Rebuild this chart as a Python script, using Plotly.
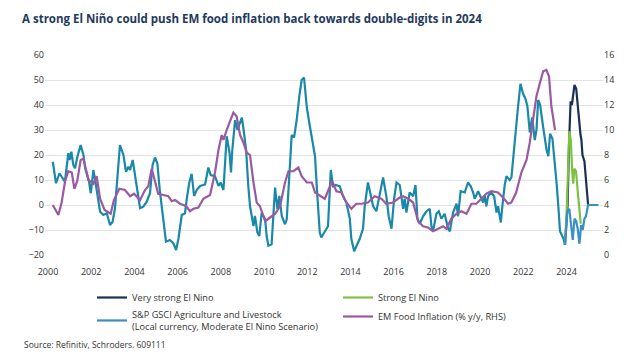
import plotly.graph_objects as go

# ---- Data (decimal years) ----
# S&P GSCI Agriculture & Livestock, local currency, % y/y (LHS) - history
gsci_years = [2000.22, 2000.37, 2000.53, 2000.70, 2000.78, 2000.94, 2001.00, 2001.08, 2001.17, 2001.25,
              2001.36, 2001.51, 2001.64, 2001.72, 2001.80, 2001.90, 2001.98, 2002.10, 2002.18, 2002.33,
              2002.41, 2002.56, 2002.72, 2002.87, 2002.99, 2003.10, 2003.33, 2003.49, 2003.61, 2003.72,
              2003.80, 2003.92, 2004.03, 2004.14, 2004.26, 2004.41, 2004.57, 2004.72, 2004.84, 2004.95,
              2005.06, 2005.18, 2005.31, 2005.46, 2005.64, 2005.80, 2005.93, 2006.04, 2006.19, 2006.34,
              2006.42, 2006.54, 2006.65, 2006.76, 2006.88, 2007.04, 2007.27, 2007.42, 2007.53, 2007.73,
              2007.89, 2007.99, 2008.12, 2008.27, 2008.40, 2008.47, 2008.53, 2008.66, 2008.77, 2008.89,
              2008.97, 2009.04, 2009.17, 2009.27, 2009.35, 2009.51, 2009.58, 2009.69, 2009.78, 2009.89,
              2010.05, 2010.12, 2010.20, 2010.35, 2010.51, 2010.62, 2010.71, 2010.82, 2010.97, 2011.05,
              2011.17, 2011.28, 2011.39, 2011.51, 2011.64, 2011.74, 2011.85, 2011.98, 2012.13, 2012.36,
              2012.45, 2012.52, 2012.58, 2012.65, 2012.81, 2012.96, 2013.09, 2013.19, 2013.30, 2013.50,
              2013.66, 2013.81, 2013.97, 2014.04, 2014.17, 2014.27, 2014.43, 2014.58, 2014.66, 2014.81,
              2014.94, 2015.05, 2015.20, 2015.35, 2015.51, 2015.66, 2015.77, 2015.90, 2016.02, 2016.13,
              2016.28, 2016.44, 2016.51, 2016.59, 2016.74, 2016.90, 2017.01, 2017.10, 2017.21, 2017.36,
              2017.52, 2017.67, 2017.75, 2017.82, 2017.98, 2018.09, 2018.21, 2018.36, 2018.52, 2018.60,
              2018.75, 2018.91, 2018.98, 2019.10, 2019.29, 2019.44, 2019.57, 2019.68, 2019.75, 2019.91,
              2020.03, 2020.14, 2020.22, 2020.29, 2020.37, 2020.52, 2020.65, 2020.76, 2020.83, 2020.96,
              2021.02, 2021.14, 2021.22, 2021.37, 2021.45, 2021.60, 2021.76, 2021.87, 2021.99, 2022.10,
              2022.19, 2022.30, 2022.41, 2022.53, 2022.61, 2022.69, 2022.78, 2022.93, 2023.08, 2023.16,
              2023.24, 2023.35, 2023.47, 2023.55, 2023.63, 2023.70, 2023.78, 2023.86, 2023.93]
gsci_values = [17.3, 8.7, 12.7, 10, 9.3, 20.7, 18, 21.3, 16, 14.7,
               19.3, 24, 20, 14.7, 12.7, 9.3, 4.7, 14, 10, 2.7,
               -2.7, -4, -3.3, -8, -6.7, -1.3, 24, 20, 13.3, 15.3,
               14, 18, 12, 5.3, -1.3, -0.7, 1.3, 4.7, 16, 19,
               16.7, 5.3, -4, -14.7, -14, -15.3, -18, -13.3, -4, -3.3,
               2.3, 9, 12.5, 3.6, 6, 7.6, 8.2, 15, 12, 11.5,
               7.6, 9, 6, 27.5, 21, 13, 22, 34, 30, 33,
               35, 31, 22, 7.6, -0.4, -8.4, -4.4, -11, -12.4, -3,
               -5.7, -12.4, -16.3, -15.7, 7, -1.7, 3.6, -4.4, -7.7, -5.7,
               14, 28, 27, 34, 44, 50, 51, 39, 31, 19.5,
               6, -4.5, -11, -13, -10.5, -8.5, 14, 7.5, 8, 7.5,
               3.5, 1, -5.5, -13.5, -18.5, -16.5, -13.5, -9.5, -0.5, 9,
               3.5, -0.5, -2.5, 3.5, 11, 3.5, -4.5, -9.5, 2.5, 9,
               8, -1.5, 2.5, -3, 5, 3.5, 8, -5.5, -7.5, -4.5,
               -2.5, -1.5, -8.5, -10.5, -3.5, -2.5, -5.5, -3.5, -9.5, -10.5,
               -3, 0.5, -4.5, 5.5, 5, 9, 7.5, 5, 2.5, 5.5,
               3, 1, 3.5, -0.5, 3.5, 5, 3.5, -3, -0.5, -7,
               -1.5, 8, 11.5, 10, 11, 26, 39.5, 48.5, 44.5, 42.5,
               39.5, 29, 35, 26, 30, 42, 40, 30.5, 22, 19.5,
               28.5, 26.5, 16, 8, -1.5, -10.5, -12, -13.5, -16]

# Moderate El Nino scenario (LHS)
moderate_years = [2023.93, 2024.04, 2024.13, 2024.22, 2024.29, 2024.37, 2024.45, 2024.52, 2024.60, 2024.68,
                  2024.75, 2024.83, 2024.90, 2025.00, 2025.48]
moderate_values = [-16, -2.5, -1.5, -8, -14, -5.5, -6.5, -9.5, -15.5, -8,
                   -10, -5.5, -4.5, 0, 0]

# Very strong El Nino scenario (LHS)
very_strong_years = [2023.93, 2024.05, 2024.12, 2024.19, 2024.25, 2024.37, 2024.45, 2024.52, 2024.60, 2024.65,
                     2024.69, 2024.74, 2024.83, 2024.92, 2025.00]
very_strong_values = [-16, 0, 25, 41.5, 40, 48, 46.5, 40, 30.5, 28,
                      26, 20, 17.5, 8.5, 0]

# Strong El Nino scenario (LHS)
strong_years = [2023.93, 2024.02, 2024.13, 2024.20, 2024.26, 2024.31, 2024.36, 2024.44, 2024.52, 2024.60, 2024.66]
strong_values = [-16, 0, 29.5, 26, 14.5, 8.5, 14.5, 13.5, 5.5, -2.5, -7.5]

# EM Food inflation, % y/y (RHS)
em_years = [2000.22, 2000.48, 2000.63, 2000.79, 2000.94, 2001.10, 2001.22, 2001.35, 2001.51, 2001.64,
            2001.87, 2002.10, 2002.25, 2002.41, 2002.62, 2002.90, 2003.05, 2003.30, 2003.56, 2003.80,
            2003.98, 2004.26, 2004.49, 2004.64, 2004.80, 2004.95, 2005.10, 2005.34, 2005.57, 2005.73,
            2005.88, 2006.11, 2006.40, 2006.57, 2006.73, 2006.96, 2007.19, 2007.50, 2007.73, 2007.89,
            2008.04, 2008.12, 2008.27, 2008.58, 2008.73, 2008.89, 2009.04, 2009.20, 2009.35, 2009.51,
            2009.66, 2009.81, 2010.05, 2010.28, 2010.51, 2010.74, 2010.97, 2011.13, 2011.36, 2011.59,
            2011.74, 2011.98, 2012.21, 2012.36, 2012.52, 2012.81, 2013.15, 2013.35, 2013.58, 2013.81,
            2014.04, 2014.27, 2014.51, 2014.81, 2015.12, 2015.43, 2015.66, 2015.97, 2016.28, 2016.44,
            2016.67, 2016.90, 2017.13, 2017.36, 2017.59, 2017.82, 2018.06, 2018.29, 2018.44, 2018.67,
            2018.91, 2019.14, 2019.37, 2019.60, 2019.83, 2020.06, 2020.29, 2020.52, 2020.83, 2021.06,
            2021.30, 2021.45, 2021.67, 2021.91, 2022.15, 2022.30, 2022.45, 2022.61, 2022.76, 2022.92,
            2023.07, 2023.19, 2023.30, 2023.47]
em_values = [4.0, 3.2, 4.2, 5.9, 6.7, 6.6, 5.3, 5.9, 7.6, 7.7,
             6.0, 5.7, 6.3, 4.5, 3.6, 3.3, 4.4, 5.3, 5.2, 4.7,
             4.9, 4.4, 5.2, 5.5, 6.9, 6.0, 4.9, 4.8, 4.7, 4.3,
             4.4, 4.1, 3.9, 3.5, 3.7, 3.8, 4.5, 4.8, 6.6, 8.4,
             9.6, 9.2, 10.0, 11.4, 11.1, 9.6, 9.0, 8.2, 8.0, 5.8,
             4.2, 3.9, 2.7, 3.0, 3.3, 3.9, 5.8, 6.7, 6.7, 7.0,
             6.3, 5.8, 5.8, 5.0, 4.8, 4.5, 5.9, 5.1, 5.0, 4.2,
             3.7, 4.1, 4.1, 4.2, 4.7, 4.5, 4.1, 4.2, 4.6, 4.7,
             4.5, 4.2, 2.7, 2.3, 2.2, 1.9, 2.1, 2.3, 2.1, 2.9,
             3.3, 3.5, 3.3, 4.1, 4.1, 4.5, 4.9, 5.1, 5.0, 4.6,
             4.1, 4.2, 5.0, 6.6, 7.6, 9.0, 10.8, 12.7, 13.7, 14.7,
             14.8, 14.3, 11.9, 10.0]

x_ticks = [2000, 2002, 2004, 2006, 2008, 2010, 2012, 2014, 2016, 2018, 2020, 2022, 2024]
left_ticks = [-20, -10, 0, 10, 20, 30, 40, 50, 60]
right_ticks = [0, 2, 4, 6, 8, 10, 12, 14, 16]

TEAL = "#1a88a8"
BLUE = "#3a8fc6"
NAVY = "#1b2f55"
GREEN = "#7cc142"
PURPLE = "#9a5aa2"
FONT = "Open Sans"

# The page body has an 8px margin, so the figure is laid out 8px up/left of the target positions.
W, H = 622, 345
L, R, T, B = 37, 27, 47, 98

fig = go.Figure()
fig.add_trace(go.Scatter(x=gsci_years, y=gsci_values, mode="lines", line=dict(color=TEAL, width=2.2),
                         showlegend=False, hoverinfo="skip"))
fig.add_trace(go.Scatter(x=very_strong_years, y=very_strong_values, mode="lines",
                         line=dict(color=NAVY, width=2.2), name="Very strong El Nino"))
fig.add_trace(go.Scatter(x=strong_years, y=strong_values, mode="lines",
                         line=dict(color=GREEN, width=2.2), name="Strong El Nino"))
fig.add_trace(go.Scatter(x=moderate_years, y=moderate_values, mode="lines",
                         line=dict(color=BLUE, width=2.2),
                         name="S&P GSCI Agriculture and Livestock<br>(Local currency, Moderate El Nino Scenario)"))
fig.add_trace(go.Scatter(x=em_years, y=em_values, mode="lines", yaxis="y2",
                         line=dict(color=PURPLE, width=2.2), name="EM Food Inflation (% y/y, RHS)"))

fig.update_layout(
    width=W, height=H,
    margin=dict(l=L, r=R, t=T, b=B, autoexpand=False),
    paper_bgcolor="white", plot_bgcolor="white",
    font=dict(family=FONT, size=9, color="#333333"),
    title=dict(text="<b>A strong El Niño could push EM food inflation back towards double-digits in 2024</b>",
               x=14/W, xanchor="left", xref="container", y=1-11/H, yanchor="middle",
               font=dict(family=FONT, size=11.5, color="#1f3a5c")),
    xaxis=dict(range=[1999.86, 2025.69], tickvals=x_ticks, ticktext=[str(t) for t in x_ticks],
               showgrid=False, zeroline=False, showline=False, ticks="", ticklabelstandoff=10,
               tickfont=dict(size=9, color="#333333")),
    yaxis=dict(range=[-20, 60], tickvals=left_ticks, showgrid=True, gridcolor="#e3e3e3", gridwidth=1,
               zeroline=False, showline=False, ticks="", tickfont=dict(size=9, color="#333333")),
    yaxis2=dict(range=[0, 16], tickvals=right_ticks, overlaying="y", side="right", showgrid=False,
                zeroline=False, showline=False, ticks="", tickfont=dict(size=9, color="#333333")),
    legend=dict(orientation="h", x=(84-L)/558, xanchor="left", y=-0.14, yanchor="top",
                entrywidth=201, entrywidthmode="pixels",
                font=dict(family=FONT, size=9.2, color="#333333"),
                itemwidth=30, tracegroupgap=0, bgcolor="rgba(0,0,0,0)"),
    annotations=[dict(text="Source: Refinitiv, Schroders. 609111", xref="paper", yref="paper",
                      x=(14-L)/558, y=(247-336)/200, xanchor="left", yanchor="middle",
                      showarrow=False, font=dict(size=8.5, color="#333333"))],
)

fig.write_html("out.html")
